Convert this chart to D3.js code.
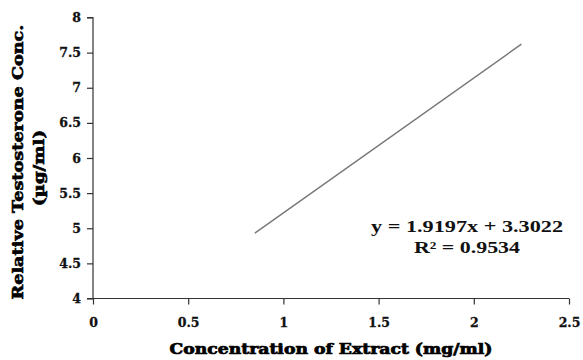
<!DOCTYPE html>
<html>
<head>
<meta charset="utf-8">
<script src="https://cdn.jsdelivr.net/npm/d3@7"></script>
<style>
  body { margin: 0; background: #fff; }
  svg { display: block; }
</style>
</head>
<body>
<svg id="chart"></svg>
<script>
// values
const xTicks = [0, 0.5, 1, 1.5, 2, 2.5];
const yTicks = [4, 4.5, 5, 5.5, 6, 6.5, 7, 7.5, 8];
const lineX = [0.85, 2.25];
const lineY = [4.93, 7.62];
const equationLines = ["y = 1.9197x + 3.3022", "R\u00b2 = 0.9534"];
const xTitle = "Concentration of Extract (mg/ml)";
const yTitle = ["Relative Testosterone Conc.", "(\u00b5g/ml)"];

const width = 583, height = 360;
const margin = {top: 17.5, right: 14, bottom: 61.5, left: 93};

const svg = d3.select("#chart")
  .attr("width", width)
  .attr("height", height);

const x = d3.scaleLinear().domain([0, 2.5]).range([margin.left, width - margin.right]);
const y = d3.scaleLinear().domain([4, 8]).range([height - margin.bottom, margin.top]);

const tickFont = "'DejaVu Serif', serif";

// y axis
const yAxis = svg.append("g")
  .attr("transform", `translate(${margin.left},0)`)
  .call(d3.axisLeft(y).tickValues(yTicks).tickSize(6).tickPadding(6)
    .tickFormat(d => d));
yAxis.selectAll("text")
  .style("font-family", tickFont)
  .style("font-weight", "bold")
  .style("font-size", "12.5px")
  .attr("fill", "#111")
  .attr("stroke", "#111")
  .attr("stroke-width", 0.3);

// x axis
const xAxis = svg.append("g")
  .attr("transform", `translate(0,${y(4)})`)
  .call(d3.axisBottom(x).tickValues(xTicks).tickSize(6).tickPadding(14)
    .tickFormat(d => d));
xAxis.selectAll("text")
  .style("font-family", tickFont)
  .style("font-weight", "bold")
  .style("font-size", "12.5px")
  .attr("fill", "#111")
  .attr("stroke", "#111")
  .attr("stroke-width", 0.3);

svg.selectAll(".domain, .tick line")
  .attr("stroke", "#333")
  .attr("stroke-width", 1.2);
xAxis.select(".domain").attr("d", `M${x(0) - 6},0H${x(2.5)}`);
yAxis.select(".domain").attr("d", `M-6,${y(8)}H0V${y(4)}`);

// trend line
const line = d3.line()
  .x(d => x(d[0]))
  .y(d => y(d[1]));
svg.append("path")
  .datum(d3.zip(lineX, lineY))
  .attr("fill", "none")
  .attr("stroke", "#777")
  .attr("stroke-width", 1.4)
  .attr("d", line);

// equation
svg.append("g")
  .selectAll("text")
  .data(equationLines)
  .join("text")
  .attr("x", 467)
  .attr("y", (d, i) => 232 + i * 21)
  .attr("text-anchor", "middle")
  .attr("textLength", (d, i) => i === 0 ? 192 : 106)
  .attr("lengthAdjust", "spacingAndGlyphs")
  .style("font-family", "'Liberation Serif', serif")
  .style("font-weight", "bold")
  .style("font-size", "16px")
  .attr("fill", "#111")
  .text(d => d);

// axis titles
svg.append("text")
  .attr("x", (x(0) + x(2.5)) / 2)
  .attr("y", 354)
  .attr("text-anchor", "middle")
  .attr("textLength", 323)
  .attr("lengthAdjust", "spacingAndGlyphs")
  .style("font-family", tickFont)
  .style("font-weight", "bold")
  .style("font-size", "14px")
  .attr("fill", "#000")
  .attr("stroke", "#000")
  .attr("stroke-width", 0.7)
  .text(xTitle);

svg.append("g")
  .selectAll("text")
  .data(yTitle)
  .join("text")
  .attr("transform", (d, i) => i === 0
    ? "translate(23,162) rotate(-90)"
    : "translate(44,168) rotate(-90)")
  .attr("text-anchor", "middle")
  .attr("textLength", (d, i) => i === 0 ? 275 : 76)
  .attr("lengthAdjust", "spacingAndGlyphs")
  .style("font-family", tickFont)
  .style("font-weight", "bold")
  .style("font-size", "14px")
  .attr("fill", "#000")
  .attr("stroke", "#000")
  .attr("stroke-width", 0.6)
  .text(d => d);
</script>
</body>
</html>
